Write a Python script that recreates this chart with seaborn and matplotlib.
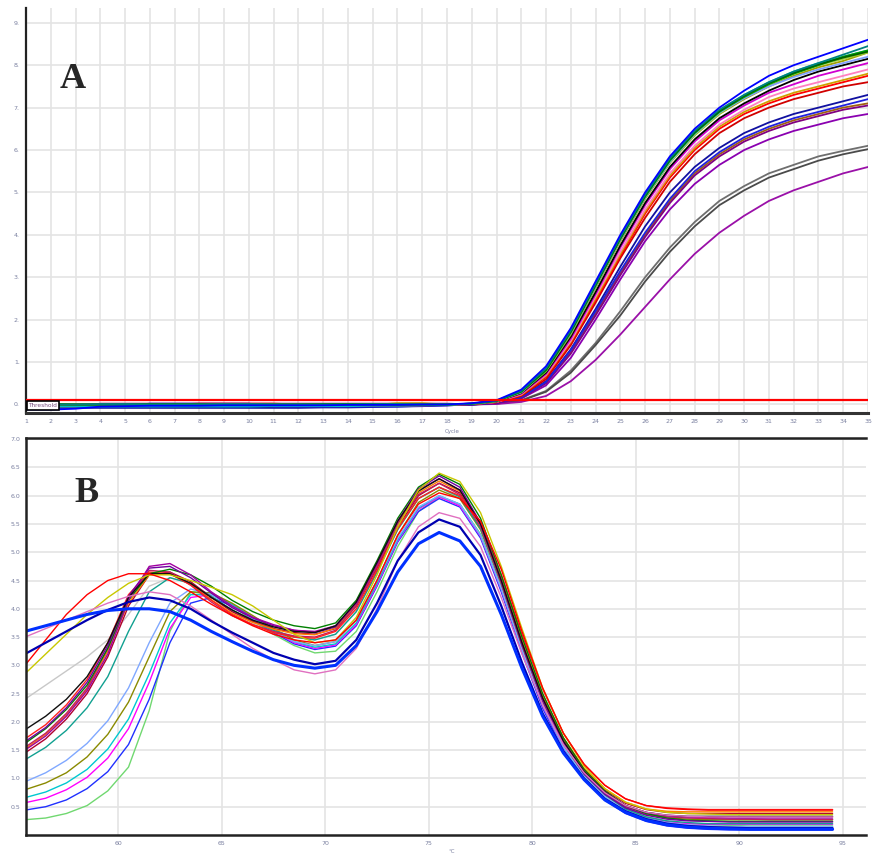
import numpy as np
import pandas as pd
import seaborn as sns
import matplotlib.pyplot as plt

# ---------------------------------------------------------------
# Panel A: amplification curves (RFU per cycle)
cycles = list(range(1, 36))

a_blue = [-0.12, -0.12, -0.1, -0.05, -0.04, -0.03, -0.03, -0.03, -0.02, -0.02, -0.02, -0.02, -0.02, -0.01, -0.01, -0.01, 0.0, 0.0,
          0.03, 0.1, 0.35, 0.9, 1.8, 2.9, 4.0, 5.0, 5.85, 6.5, 7.0, 7.4, 7.75, 8.0, 8.2, 8.4, 8.6]
a_teal = [0.0, 0.0, 0.0, 0.01, 0.01, 0.0, 0.0, 0.0, 0.01, 0.01, 0.0, 0.0, 0.0, 0.0, 0.01, 0.01, 0.0, 0.0,
          0.02, 0.09, 0.32, 0.85, 1.75, 2.85, 3.95, 4.95, 5.8, 6.45, 6.95, 7.3, 7.6, 7.85, 8.05, 8.25, 8.45]
a_green = [0.01, 0.01, 0.0, 0.0, 0.0, 0.01, 0.01, 0.01, 0.0, 0.0, 0.0, 0.0, 0.01, 0.01, 0.01, 0.0, 0.0, 0.0,
           0.02, 0.08, 0.3, 0.8, 1.7, 2.8, 3.9, 4.9, 5.75, 6.4, 6.9, 7.25, 7.55, 7.8, 8.0, 8.2, 8.35]
a_olive = [0.0, 0.0, 0.0, 0.0, 0.0, 0.0, 0.0, 0.0, 0.0, 0.0, 0.0, 0.0, 0.0, 0.0, 0.0, 0.02, 0.02, 0.0,
           0.01, 0.07, 0.28, 0.78, 1.65, 2.75, 3.85, 4.85, 5.7, 6.35, 6.85, 7.2, 7.5, 7.75, 7.95, 8.1, 8.3]
a_black = [-0.02, -0.02, -0.02, -0.02, -0.02, -0.02, -0.02, -0.02, -0.02, -0.02, -0.02, -0.02, -0.02, -0.02, -0.02, -0.02, -0.01, 0.0,
           0.01, 0.07, 0.27, 0.75, 1.6, 2.65, 3.75, 4.75, 5.6, 6.25, 6.75, 7.1, 7.4, 7.65, 7.85, 8.0, 8.15]
a_cyan = [-0.05, -0.05, -0.05, -0.05, -0.05, -0.05, -0.05, -0.05, -0.05, -0.05, -0.04, -0.04, -0.04, -0.04, -0.03, -0.03, -0.02, -0.01,
          0.02, 0.08, 0.3, 0.82, 1.72, 2.82, 3.92, 4.9, 5.75, 6.4, 6.9, 7.3, 7.6, 7.85, 8.05, 8.2, 8.35]
a_magenta = [-0.03, -0.03, -0.03, -0.03, -0.03, -0.03, -0.03, -0.03, -0.03, -0.03, -0.03, -0.03, -0.03, -0.03, -0.03, -0.02, -0.02, -0.01,
             0.01, 0.06, 0.25, 0.72, 1.55, 2.6, 3.7, 4.7, 5.55, 6.2, 6.7, 7.05, 7.35, 7.55, 7.75, 7.9, 8.05]
a_red = [0.0, 0.0, 0.0, 0.0, 0.0, 0.0, 0.0, 0.02, 0.02, 0.02, 0.02, 0.0, 0.0, 0.0, 0.0, 0.0, 0.0, 0.0,
         0.01, 0.05, 0.22, 0.65, 1.45, 2.45, 3.5, 4.5, 5.35, 6.0, 6.5, 6.85, 7.1, 7.3, 7.45, 7.6, 7.75]
a_red2 = [-0.04, -0.04, -0.04, -0.04, -0.04, -0.04, -0.04, -0.04, -0.04, -0.04, -0.04, -0.04, -0.04, -0.04, -0.03, -0.03, -0.02, -0.01,
          0.01, 0.05, 0.2, 0.6, 1.4, 2.4, 3.45, 4.4, 5.25, 5.9, 6.4, 6.75, 7.0, 7.2, 7.35, 7.5, 7.6]
a_pink = [-0.01, -0.01, -0.01, -0.01, -0.01, -0.01, -0.01, -0.01, -0.01, -0.01, -0.01, -0.01, -0.01, -0.01, -0.01, -0.01, 0.0, 0.0,
          0.01, 0.06, 0.24, 0.7, 1.5, 2.55, 3.6, 4.6, 5.45, 6.1, 6.6, 6.95, 7.25, 7.45, 7.6, 7.75, 7.9]
a_yellowgreen = [0.0, 0.0, 0.0, 0.0, 0.0, 0.0, 0.0, 0.0, 0.0, 0.0, 0.0, 0.0, 0.0, 0.0, 0.0, 0.0, 0.0, 0.0,
                 0.02, 0.08, 0.3, 0.8, 1.7, 2.8, 3.9, 4.9, 5.7, 6.35, 6.85, 7.25, 7.55, 7.8, 8.0, 8.15, 8.3]
a_navy = [-0.08, -0.08, -0.08, -0.08, -0.08, -0.08, -0.08, -0.08, -0.08, -0.08, -0.08, -0.08, -0.07, -0.07, -0.06, -0.05, -0.04, -0.02,
          0.0, 0.04, 0.18, 0.55, 1.3, 2.25, 3.25, 4.2, 5.0, 5.6, 6.05, 6.4, 6.65, 6.85, 7.0, 7.15, 7.3]
a_purple = [-0.06, -0.06, -0.06, 0.02, 0.02, 0.02, 0.02, 0.02, 0.02, 0.02, 0.02, 0.02, 0.02, 0.02, 0.02, 0.02, 0.02, 0.02,
            0.0, 0.03, 0.15, 0.5, 1.2, 2.1, 3.05, 3.95, 4.75, 5.4, 5.85, 6.2, 6.45, 6.65, 6.8, 6.95, 7.05]
a_brown = [-0.02, -0.02, -0.02, -0.02, -0.02, -0.02, -0.02, -0.02, -0.02, -0.02, -0.02, -0.02, -0.02, -0.02, -0.02, -0.02, -0.01, -0.01,
           0.0, 0.04, 0.16, 0.52, 1.25, 2.15, 3.1, 4.0, 4.8, 5.45, 5.9, 6.25, 6.5, 6.7, 6.85, 7.0, 7.1]
a_purple2 = [-0.03, -0.03, -0.03, -0.03, -0.03, -0.03, -0.03, -0.03, -0.03, -0.03, -0.03, -0.03, -0.03, -0.03, -0.03, -0.03, -0.02, -0.02,
             0.0, 0.03, 0.14, 0.45, 1.1, 2.0, 2.95, 3.85, 4.6, 5.2, 5.65, 6.0, 6.25, 6.45, 6.6, 6.75, 6.85]
a_gray = [0.0, 0.0, 0.0, 0.0, 0.0, 0.0, 0.0, 0.0, 0.0, 0.0, 0.0, 0.0, 0.0, 0.0, 0.0, 0.0, 0.0, 0.0,
          0.0, 0.02, 0.1, 0.32, 0.8, 1.45, 2.2, 3.0, 3.7, 4.3, 4.8, 5.15, 5.45, 5.65, 5.85, 5.98, 6.1]
a_gray2 = [-0.01, -0.01, -0.01, -0.01, -0.01, -0.01, -0.01, -0.01, -0.01, -0.01, -0.01, -0.01, -0.01, -0.01, -0.01, -0.01, -0.01, -0.01,
           0.0, 0.02, 0.09, 0.3, 0.75, 1.4, 2.1, 2.9, 3.6, 4.2, 4.7, 5.05, 5.35, 5.55, 5.75, 5.9, 6.02]
a_violet = [-0.02, -0.02, -0.02, -0.02, -0.02, -0.02, -0.02, -0.02, -0.02, -0.02, -0.02, -0.02, -0.02, -0.02, -0.02, -0.01, -0.01, -0.01,
            0.0, 0.01, 0.06, 0.2, 0.55, 1.05, 1.65, 2.3, 2.95, 3.55, 4.05, 4.45, 4.8, 5.05, 5.25, 5.45, 5.6]
a_lightblue = [0.0, 0.0, 0.0, 0.0, 0.0, 0.0, 0.0, 0.0, 0.0, 0.0, 0.0, 0.0, 0.0, 0.0, 0.0, 0.0, 0.0, 0.0,
               0.02, 0.08, 0.29, 0.8, 1.68, 2.78, 3.88, 4.88, 5.72, 6.38, 6.88, 7.22, 7.5, 7.72, 7.9, 8.05, 8.2]
a_darkgreen = [0.0, 0.0, 0.0, 0.0, 0.0, 0.0, 0.0, 0.0, 0.0, 0.0, 0.0, 0.0, 0.0, 0.0, 0.0, 0.0, 0.0, 0.0,
               0.02, 0.09, 0.31, 0.83, 1.73, 2.83, 3.93, 4.93, 5.78, 6.42, 6.92, 7.28, 7.58, 7.82, 8.02, 8.18, 8.32]
a_gold = [-0.01, -0.01, -0.01, -0.01, -0.01, -0.01, -0.01, -0.01, -0.01, -0.01, -0.01, -0.01, -0.01, -0.01, -0.01, 0.03, 0.03, 0.0,
          0.01, 0.06, 0.23, 0.68, 1.48, 2.5, 3.55, 4.55, 5.4, 6.05, 6.55, 6.9, 7.15, 7.35, 7.5, 7.65, 7.8]
a_blue2 = [-0.04, -0.04, -0.04, -0.04, -0.04, 0.02, 0.02, 0.02, 0.02, 0.02, -0.05, -0.05, -0.05, -0.05, -0.05, -0.05, -0.03, -0.02,
           0.0, 0.04, 0.17, 0.53, 1.28, 2.2, 3.15, 4.05, 4.85, 5.5, 5.95, 6.3, 6.55, 6.75, 6.9, 7.05, 7.2]

a_series = [a_gray, a_gray2, a_violet, a_purple2, a_brown, a_navy, a_purple, a_blue2, a_red2, a_red,
            a_gold, a_pink, a_magenta, a_black, a_olive, a_yellowgreen, a_lightblue, a_cyan, a_green,
            a_darkgreen, a_teal, a_blue]
a_colors = ['#6e6e6e', '#4a4a4a', '#9a10a8', '#8a00b0', '#a06010', '#1010a0', '#800080', '#2020e0', '#d00000', '#ff0000',
            '#d0a000', '#ff80c0', '#d000d0', '#000000', '#a0a000', '#9acd32', '#80a0ff', '#00c0c0', '#00a000',
            '#006000', '#008080', '#0000ff']
a_ticks_y = ['0.', '1.', '2.', '3.', '4.', '5.', '6.', '7.', '8.', '9.']
threshold = 0.1

# ---------------------------------------------------------------
# Panel B: melt curves (-dF/dT)
temps = np.arange(55.5, 95.0, 1.0)

b_main = [1.55, 1.8, 2.15, 2.6, 3.3, 4.2, 4.68, 4.65, 4.42, 4.12, 3.88, 3.72, 3.6, 3.52, 3.5, 3.62, 4.05, 4.75, 5.5, 6.02,
          6.22, 6.02, 5.45, 4.45, 3.35, 2.38, 1.62, 1.1, 0.74, 0.5, 0.38, 0.32, 0.3, 0.29, 0.28, 0.28, 0.27, 0.27, 0.27, 0.27]
b_lightgreen = [0.27, 0.3, 0.38, 0.52, 0.78, 1.2, 2.2, 3.6, 4.3, 4.25, 4.05, 3.8, 3.55, 3.35, 3.22, 3.25, 3.6, 4.3, 5.1, 5.72,
                5.98, 5.85, 5.32, 4.38, 3.3, 2.32, 1.58, 1.06, 0.7, 0.46, 0.32, 0.24, 0.2, 0.18, 0.17, 0.16, 0.16, 0.16, 0.16, 0.16]
b_red = [3.0, 3.45, 3.9, 4.25, 4.5, 4.62, 4.62, 4.5, 4.3, 4.08, 3.88, 3.7, 3.55, 3.45, 3.4, 3.45, 3.8, 4.5, 5.3, 5.85,
         6.05, 5.95, 5.55, 4.7, 3.6, 2.6, 1.8, 1.25, 0.88, 0.64, 0.52, 0.47, 0.45, 0.44, 0.44, 0.44, 0.44, 0.44, 0.44, 0.44]
b_yellow = [2.85, 3.2, 3.55, 3.9, 4.2, 4.45, 4.6, 4.6, 4.5, 4.38, 4.25, 4.05, 3.8, 3.55, 3.4, 3.45, 3.85, 4.6, 5.45, 6.1,
            6.4, 6.25, 5.7, 4.75, 3.65, 2.6, 1.8, 1.22, 0.82, 0.58, 0.46, 0.4, 0.38, 0.37, 0.36, 0.36, 0.36, 0.36, 0.36, 0.36]
b_blue = [3.6, 3.7, 3.8, 3.9, 3.97, 4.0, 4.0, 3.95, 3.8, 3.6, 3.42, 3.25, 3.1, 3.0, 2.95, 3.0, 3.35, 3.95, 4.65, 5.15,
          5.35, 5.2, 4.75, 3.9, 2.95, 2.1, 1.45, 0.98, 0.62, 0.4, 0.26, 0.18, 0.14, 0.12, 0.11, 0.1, 0.1, 0.1, 0.1, 0.1]
b_navy = [3.2, 3.4, 3.6, 3.8, 3.98, 4.12, 4.2, 4.15, 4.0, 3.78, 3.58, 3.4, 3.22, 3.1, 3.02, 3.08, 3.45, 4.1, 4.85, 5.35,
          5.58, 5.45, 4.95, 4.05, 3.05, 2.15, 1.48, 1.0, 0.64, 0.42, 0.28, 0.2, 0.16, 0.14, 0.13, 0.12, 0.12, 0.12, 0.12, 0.12]
b_pink = [3.5, 3.65, 3.8, 3.95, 4.1, 4.22, 4.3, 4.25, 4.05, 3.8, 3.55, 3.3, 3.1, 2.92, 2.85, 2.92, 3.3, 4.0, 4.85, 5.45,
          5.7, 5.6, 5.1, 4.2, 3.2, 2.3, 1.6, 1.1, 0.75, 0.52, 0.4, 0.35, 0.33, 0.32, 0.32, 0.32, 0.32, 0.32, 0.32, 0.32]
b_gray = [2.4, 2.65, 2.9, 3.15, 3.45, 3.9, 4.4, 4.55, 4.45, 4.2, 3.95, 3.75, 3.6, 3.5, 3.45, 3.55, 3.95, 4.65, 5.4, 5.95,
          6.15, 5.95, 5.4, 4.45, 3.35, 2.38, 1.62, 1.1, 0.74, 0.5, 0.38, 0.32, 0.3, 0.29, 0.28, 0.28, 0.28, 0.28, 0.28, 0.28]
b_black = [1.86, 2.1, 2.4, 2.8, 3.4, 4.2, 4.62, 4.62, 4.45, 4.2, 3.98, 3.8, 3.68, 3.6, 3.58, 3.7, 4.12, 4.82, 5.55, 6.08,
           6.3, 6.1, 5.5, 4.5, 3.4, 2.42, 1.66, 1.12, 0.76, 0.52, 0.4, 0.35, 0.33, 0.33, 0.33, 0.33, 0.33, 0.33, 0.33, 0.33]
b_purple = [1.5, 1.75, 2.1, 2.55, 3.2, 4.15, 4.75, 4.8, 4.6, 4.3, 4.05, 3.85, 3.72, 3.62, 3.6, 3.7, 4.1, 4.8, 5.55, 6.1,
            6.3, 6.1, 5.5, 4.5, 3.4, 2.4, 1.65, 1.12, 0.76, 0.52, 0.4, 0.34, 0.32, 0.31, 0.3, 0.3, 0.3, 0.3, 0.3, 0.3]
b_maroon = [1.45, 1.7, 2.05, 2.5, 3.15, 4.05, 4.6, 4.65, 4.48, 4.2, 3.95, 3.78, 3.65, 3.58, 3.55, 3.65, 4.05, 4.72, 5.45, 6.0,
            6.22, 6.05, 5.5, 4.52, 3.42, 2.45, 1.7, 1.16, 0.8, 0.56, 0.45, 0.4, 0.38, 0.38, 0.38, 0.38, 0.38, 0.38, 0.38, 0.38]
b_green = [1.62, 1.88, 2.22, 2.65, 3.3, 4.15, 4.62, 4.7, 4.6, 4.4, 4.15, 3.95, 3.8, 3.7, 3.65, 3.75, 4.15, 4.85, 5.6, 6.15,
           6.38, 6.2, 5.6, 4.6, 3.5, 2.5, 1.72, 1.16, 0.78, 0.52, 0.38, 0.3, 0.26, 0.25, 0.24, 0.24, 0.24, 0.24, 0.24, 0.24]
b_teal = [1.33, 1.55, 1.85, 2.25, 2.8, 3.6, 4.3, 4.55, 4.45, 4.22, 3.98, 3.78, 3.62, 3.5, 3.45, 3.55, 3.95, 4.65, 5.4, 5.95,
          6.15, 5.98, 5.42, 4.45, 3.36, 2.38, 1.62, 1.08, 0.72, 0.46, 0.32, 0.25, 0.22, 0.2, 0.2, 0.2, 0.2, 0.2, 0.2, 0.2]
b_lightblue = [0.94, 1.1, 1.32, 1.62, 2.02, 2.6, 3.4, 4.1, 4.35, 4.25, 4.05, 3.82, 3.6, 3.42, 3.35, 3.42, 3.8, 4.5, 5.25, 5.8,
               6.0, 5.85, 5.3, 4.36, 3.28, 2.3, 1.56, 1.04, 0.68, 0.44, 0.3, 0.22, 0.18, 0.16, 0.15, 0.15, 0.15, 0.15, 0.15, 0.15]
b_olive = [0.8, 0.92, 1.1, 1.38, 1.78, 2.35, 3.15, 3.95, 4.3, 4.28, 4.1, 3.88, 3.65, 3.45, 3.35, 3.42, 3.8, 4.5, 5.3, 5.88,
           6.1, 5.95, 5.4, 4.45, 3.36, 2.36, 1.6, 1.08, 0.72, 0.48, 0.36, 0.3, 0.28, 0.27, 0.27, 0.27, 0.27, 0.27, 0.27, 0.27]
b_cyan = [0.66, 0.76, 0.92, 1.16, 1.52, 2.05, 2.85, 3.75, 4.25, 4.25, 4.08, 3.85, 3.62, 3.42, 3.32, 3.38, 3.75, 4.45, 5.22, 5.78,
          6.0, 5.85, 5.3, 4.36, 3.28, 2.3, 1.55, 1.02, 0.66, 0.42, 0.28, 0.2, 0.16, 0.14, 0.13, 0.13, 0.13, 0.13, 0.13, 0.13]
b_magenta = [0.57, 0.65, 0.8, 1.02, 1.36, 1.88, 2.7, 3.65, 4.2, 4.25, 4.08, 3.85, 3.6, 3.4, 3.3, 3.36, 3.72, 4.42, 5.2, 5.76,
             5.98, 5.82, 5.28, 4.34, 3.26, 2.28, 1.54, 1.02, 0.66, 0.42, 0.3, 0.24, 0.2, 0.19, 0.19, 0.19, 0.19, 0.19, 0.19, 0.19]
b_blue2 = [0.44, 0.5, 0.62, 0.82, 1.12, 1.6, 2.4, 3.4, 4.1, 4.2, 4.05, 3.82, 3.58, 3.38, 3.28, 3.34, 3.7, 4.4, 5.18, 5.72,
           5.95, 5.8, 5.25, 4.3, 3.22, 2.24, 1.5, 0.98, 0.62, 0.38, 0.24, 0.16, 0.12, 0.1, 0.09, 0.09, 0.09, 0.09, 0.09, 0.09]
b_red2 = [1.7, 1.95, 2.3, 2.75, 3.4, 4.25, 4.65, 4.62, 4.42, 4.15, 3.9, 3.72, 3.58, 3.5, 3.48, 3.6, 4.0, 4.68, 5.42, 5.95,
          6.15, 6.0, 5.5, 4.6, 3.55, 2.58, 1.8, 1.25, 0.88, 0.64, 0.52, 0.48, 0.46, 0.45, 0.45, 0.45, 0.45, 0.45, 0.45, 0.45]
b_orange = [1.52, 1.78, 2.12, 2.58, 3.25, 4.1, 4.6, 4.62, 4.44, 4.16, 3.92, 3.76, 3.64, 3.56, 3.54, 3.66, 4.08, 4.78, 5.52, 6.05,
            6.26, 6.08, 5.52, 4.55, 3.46, 2.48, 1.72, 1.18, 0.82, 0.58, 0.46, 0.42, 0.41, 0.41, 0.41, 0.41, 0.41, 0.41, 0.41, 0.41]
b_darkviolet = [1.65, 1.9, 2.25, 2.7, 3.35, 4.22, 4.72, 4.75, 4.55, 4.28, 4.02, 3.84, 3.7, 3.62, 3.58, 3.68, 4.1, 4.8, 5.55, 6.12,
                6.35, 6.15, 5.52, 4.5, 3.38, 2.38, 1.62, 1.08, 0.72, 0.48, 0.35, 0.28, 0.25, 0.24, 0.23, 0.23, 0.23, 0.23, 0.23, 0.23]

b_series = [b_gray, b_lightgreen, b_blue2, b_magenta, b_cyan, b_olive, b_lightblue, b_teal, b_maroon, b_orange,
            b_main, b_red2, b_green, b_darkviolet, b_purple, b_black, b_yellow, b_red, b_pink, b_navy, b_blue]
b_colors = ['#c8c8c8', '#70d870', '#2030ff', '#ff00ff', '#00c8d0', '#8a8a00', '#80a8ff', '#10a090', '#b00030', '#ff8000',
            '#c02060', '#ff2020', '#008000', '#7000a0', '#a000a0', '#101010', '#c8c800', '#ff0000', '#e070c0', '#0000b0', '#0030ff']
b_widths = [1.0] * 19 + [1.6, 2.2]
b_ticks_y = ['0.5', '1.0', '1.5', '2.0', '2.5', '3.0', '3.5', '4.0', '4.5', '5.0', '5.5', '6.0', '6.5', '7.0']
b_ticks_x = ['60', '65', '70', '75', '80', '85', '90', '95']

# ---------------------------------------------------------------
sns.set_style("white")
plt.rcParams['font.family'] = ['DejaVu Sans']

fig = plt.figure(figsize=(8.72, 8.55), dpi=100)
ax_a = fig.add_axes([0.0298, 0.517, 0.9656, 0.4737])
ax_b = fig.add_axes([0.0298, 0.0234, 0.963, 0.4643])

tick_col = '#7a80a0'
grid_col = '#e4e4e4'

# --- A
df_a = pd.concat([pd.DataFrame({'cycle': cycles, 'rfu': s, 'well': 'w%02d' % i})
                  for i, s in enumerate(a_series)])
sns.lineplot(data=df_a, x='cycle', y='rfu', hue='well', palette=a_colors, estimator=None,
             sort=False, lw=1.3, legend=False, ax=ax_a)
ax_a.axhline(threshold, color='#ff0000', lw=1.6, xmin=0, xmax=1, zorder=5)
ax_a.set_xlim(1, 35)
ax_a.set_ylim(-0.2, 9.35)
ax_a.set_xticks(cycles)
ax_a.set_xticklabels([str(c) for c in cycles])
ax_a.set_yticks(range(10))
ax_a.set_yticklabels(a_ticks_y)
ax_a.grid(True, color=grid_col, lw=1.2)
ax_a.set_axisbelow(True)
for s in ['top', 'right']:
    ax_a.spines[s].set_visible(False)
ax_a.spines['left'].set_color('#222222')
ax_a.spines['left'].set_linewidth(1.6)
ax_a.spines['bottom'].set_color('#333333')
ax_a.spines['bottom'].set_linewidth(2.2)
ax_a.tick_params(axis='both', labelsize=4.5, labelcolor=tick_col, length=2.5, width=1, color='#333333', pad=2)
ax_a.set_xlabel('')
ax_a.set_ylabel('')
ax_a.text(0.003, 0.012, 'Threshold', transform=ax_a.transAxes, fontsize=4.2, color='#7a5080',
          va='bottom', ha='left', zorder=6,
          bbox=dict(boxstyle='square,pad=0.3', fc='white', ec='black', lw=1.2))
fig.text(60 / 872, 1 - 80 / 855, 'A', fontsize=26, fontweight='bold', family='Liberation Serif',
         ha='left', va='center')
fig.text(452 / 872, 1 - 431 / 855, 'Cycle', fontsize=4, color=tick_col, ha='center', va='center')

# --- B
df_b = pd.concat([pd.DataFrame({'temp': temps, 'dfdt': s, 'well': 'w%02d' % i})
                  for i, s in enumerate(b_series)])
for i, (name, grp) in enumerate(df_b.groupby('well', sort=True)):
    sns.lineplot(data=grp, x='temp', y='dfdt', color=b_colors[i], lw=b_widths[i],
                 estimator=None, sort=False, ax=ax_b)
ax_b.set_xlim(55.55, 96.1)
ax_b.set_ylim(0, 7.02)
ax_b.set_xticks([60, 65, 70, 75, 80, 85, 90, 95])
ax_b.set_xticklabels(b_ticks_x)
ax_b.set_yticks(np.arange(0.5, 7.01, 0.5))
ax_b.set_yticklabels(b_ticks_y)
ax_b.grid(True, color=grid_col, lw=1.2)
ax_b.set_axisbelow(True)
ax_b.spines['right'].set_visible(False)
for s in ['top', 'left', 'bottom']:
    ax_b.spines[s].set_color('#222222')
    ax_b.spines[s].set_linewidth(1.8)
ax_b.tick_params(axis='both', labelsize=4.5, labelcolor=tick_col, length=2, width=1, color='#333333', pad=2)
ax_b.set_xlabel('')
ax_b.set_ylabel('')
fig.text(86 / 872, 1 - 493 / 855, 'B', fontsize=26, fontweight='bold', family='Liberation Serif',
         ha='center', va='center')
fig.text(452 / 872, 1 - 851 / 855, '°C', fontsize=4, color=tick_col, ha='center', va='center')

fig.savefig('out.png', dpi=100)
